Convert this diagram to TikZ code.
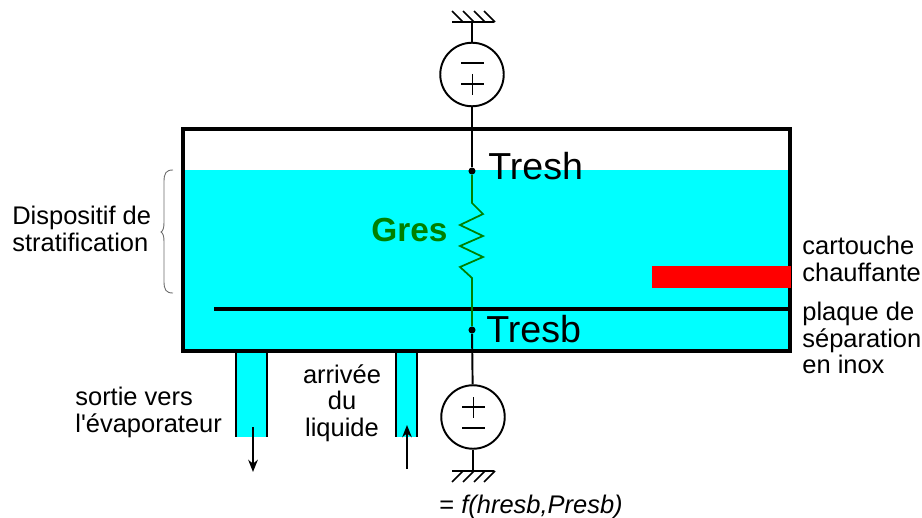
\documentclass[tikz,border=0pt]{standalone}
\usepackage{fontspec}
\setmainfont{Liberation Sans}
\newfontfamily\droit{Liberation Sans}
\usetikzlibrary{arrows.meta}
\definecolor{eau}{RGB}{0,255,255}
\definecolor{vertres}{RGB}{0,128,0}
\tikzset{
  legende/.style={inner sep=0pt, align=left, font=\fontsize{14.5}{15}\selectfont},
  temper/.style={inner sep=0pt, anchor=base west, font=\fontsize{21.4}{24}\selectfont},
  source/.style={draw, circle, line width=1.1pt, minimum size=1.27cm, inner sep=0pt},
  fil/.style={line width=1.1pt},
  fleche/.style={-{Stealth[length=7pt,width=5.5pt]}, line width=0.8pt},
  point/.style={circle, fill, minimum size=4pt, inner sep=0pt}
}
\begin{document}
\begin{tikzpicture}[x=0.02cm,y=-0.02cm]
\useasboundingbox (0,0) rectangle (922,517);

% liquide
\fill[eau] (183,170) rectangle (790,351);
\fill[eau] (236,353) rectangle (267,437);
\fill[eau] (396,353) rectangle (417,437);

% cuve et plaque
\draw[line width=2.2pt] (183,129) rectangle (790,351);
\draw[line width=2.2pt] (214,309) -- (790,309);
\fill[red] (652,266) rectangle (791,288);

% tubes
\draw[line width=1.2pt] (236,353) -- (236,437);
\draw[line width=1.2pt] (267,353) -- (267,437);
\draw[line width=1.2pt] (396,353) -- (396,437);
\draw[line width=1.2pt] (417,353) -- (417,437);

% sources
\node[source] (srch) at (472,74.5) {};
\node[source] (srcb) at (473,417) {};
\draw[line width=0.7pt] (461,63) -- (484,63);
\draw[line width=0.7pt] (461,84) -- (484,84);
\draw[line width=0.7pt] (472.5,74) -- (472.5,95);
\draw[line width=0.7pt] (462,407) -- (485,407);
\draw[line width=0.7pt] (473.5,397) -- (473.5,418);
\draw[line width=0.7pt] (462,428) -- (485,428);

% masses
\coordinate (massh) at (472,22);
\coordinate (massb) at (473,471);
\draw[fil] (452,22) -- (494,22);
\draw[fil] (452,471) -- (494,471);
\foreach \x in {463,474,485,495} {
  \draw[line width=0.9pt] (\x-11,11) -- (\x,22);
  \draw[line width=0.9pt] (\x,471) -- (\x-11,482);
}

% points de mesure et resistance
\node[point] (ptsh) at (472,171) {};
\node[point] (ptsb) at (472,330) {};
\draw[vertres, line width=1pt] (ptsh) -- (472,203) -- (483,214) -- (460,225) -- (483,236) -- (460,246) -- (483,257) -- (460,267) -- (472,278) -- (ptsb);
\draw[fil] (massh) -- (srch);
\draw[fil] (srch) -- (ptsh);
\draw[fil] (ptsb) -- (srcb);
\draw[fil] (srcb) -- (massb);

% fleches
\coordinate (sortie) at (253,427);
\coordinate (sortiebas) at (253,472);
\coordinate (arrivee) at (407,425);
\coordinate (arriveebas) at (407,469);
\draw[fleche] (sortie) -- (sortiebas);
\draw[fleche] (arriveebas) -- (arrivee);

% accolade
\draw[gray!85!black, line width=0.5pt] (173,170) .. controls (166,170) and (164,173) .. (164,182) -- (164,222) .. controls (164,228) and (163,231) .. (161,232) .. controls (163,233) and (164,236) .. (164,242) -- (164,281) .. controls (164,290) and (166,293) .. (173,293);

% etiquettes
\node[temper] (tresh) at (488,179) {Tresh};
\node[temper] (tresb) at (486,342) {Tresb};
\node[inner sep=0pt, anchor=base west, text=vertres, font=\fontsize{19}{22}\selectfont\bfseries] (gres) at (371,241) {Gres};
\node[legende, anchor=north west] (dispo) at (12,206) {Dispositif de\\stratification};
\node[legende, anchor=north west] (cart) at (802,236) {cartouche\\chauffante};
\node[legende, anchor=north west] (plaque) at (802,302) {plaque de\\séparation\\en inox};
\node[legende, anchor=north west] (evap) at (75,387) {sortie vers\\l{\droit'}évaporateur};
\node[legende, anchor=north, align=center] (liq) at (342,364.5) {arrivée\\du\\liquide};
\node[legende, anchor=base west] (eqn) at (439,513) {= \textit{f(hresb,Presb)}};

\end{tikzpicture}
\end{document}
